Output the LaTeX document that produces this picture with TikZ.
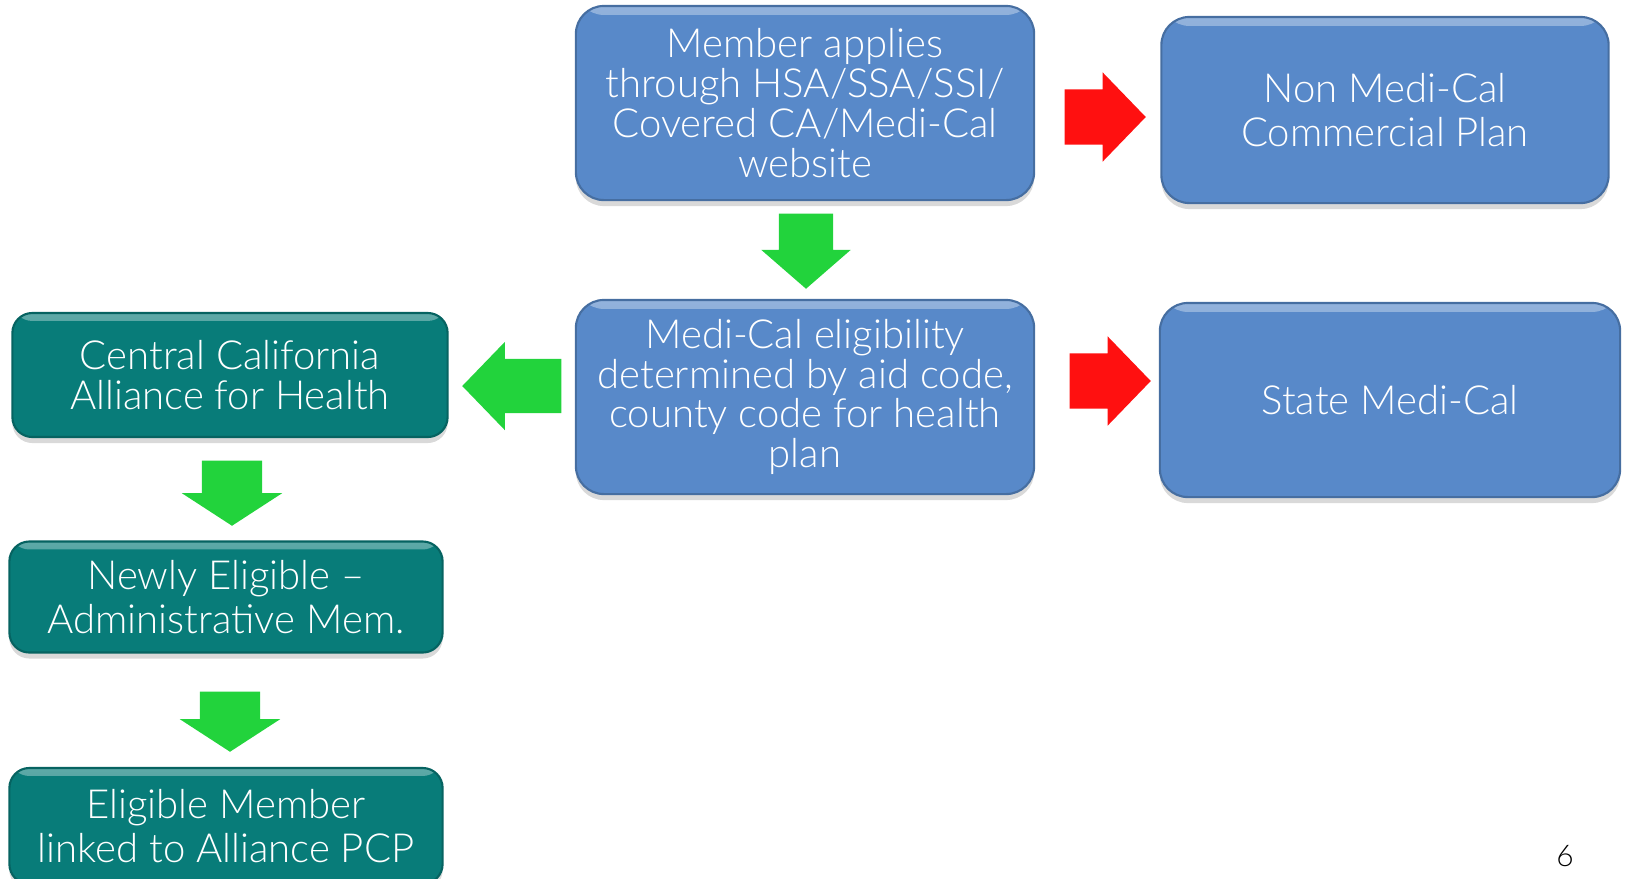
\documentclass[tikz,border=0pt]{standalone}
\usepackage{fontspec}
\setmainfont{Lato Light}
\usetikzlibrary{shapes.arrows,shadows}

\definecolor{boxblue}{HTML}{5889C9}
\definecolor{boxteal}{HTML}{087C79}
\definecolor{arrgreen}{HTML}{22D33C}
\definecolor{arrred}{HTML}{FF1010}

\tikzset{
	plainbox/.style={rectangle, text=white, align=center, inner sep=0pt,
		line width=0.6pt,
		drop shadow={shadow xshift=0pt, shadow yshift=-0.06cm, opacity=0.3},
		font=\fontsize{11.4}{11.3}\selectfont},
	bluebox/.style={plainbox, rounded corners=0.28cm, fill=boxblue, draw=boxblue!80!black,
		path picture={\shade[top color=boxblue!65!white, bottom color=boxblue]
			(path picture bounding box.north west) rectangle ([yshift=-0.09cm]path picture bounding box.north east);}},
	tealbox/.style={plainbox, rounded corners=0.2cm, fill=boxteal, draw=boxteal!80!black,
		path picture={\shade[top color=boxteal!65!white, bottom color=boxteal]
			(path picture bounding box.north west) rectangle ([yshift=-0.08cm]path picture bounding box.north east);}},
	blockarrow/.style={single arrow, inner sep=0pt, draw=none, anchor=tail},
	garrow/.style={blockarrow, fill=arrgreen},
	% downward arrows take their shaft width from inner xsep
	gdown/.style={garrow, shape border rotate=270, inner xsep=#1},
	rarrow/.style={blockarrow, fill=arrred, shape border rotate=0,
		minimum height=0.81cm, inner ysep=0.27cm,
		single arrow head extend=0.17cm, single arrow tip angle=92}
}

\begin{document}
\begin{tikzpicture}[x=0.01cm, y=-0.01cm]
	\useasboundingbox (0,0) rectangle (1625,878);
	\clip (0,0) rectangle (1625,878);

	% blue column: application and eligibility
	\node[bluebox, minimum width=4.58cm, minimum height=1.94cm] (apply) at (805,103)
		{Member applies\\through HSA/SSA/SSI/\\Covered CA/Medi-Cal\\website};
	\node[bluebox, minimum width=4.58cm, minimum height=1.94cm] (elig) at (805,397)
		{Medi-Cal eligibility\\determined by aid code,\\county code for health\\plan};
	\node[bluebox, minimum width=4.47cm, minimum height=1.86cm,
		font=\fontsize{11.4}{12.4}\selectfont] (commercial) at (1385,110)
		{Non Medi-Cal\\Commercial Plan};
	\node[bluebox, minimum width=4.6cm, minimum height=1.94cm] (state) at (1390,400)
		{State Medi-Cal};

	% teal column: the plan
	\node[tealbox, minimum width=4.35cm, minimum height=1.24cm] (alliance) at (230,375)
		{Central California\\Alliance for Health};
	\node[tealbox, minimum width=4.33cm, minimum height=1.11cm,
		font=\fontsize{11.4}{12.4}\selectfont] (newly) at (226,597)
		{Newly Eligible --\\Administrative Mem.};
	\node[tealbox, minimum width=4.33cm, minimum height=1.16cm,
		font=\fontsize{11.4}{12.4}\selectfont] (linked) at (226,826)
		{Eligible Member\\linked to Alliance PCP};

	% block arrows, placed by their tails
	\node[rarrow] (toCommercial) at (1064,117) {};
	\node[rarrow] (toState) at (1069,381) {};
	\node[gdown=0.265cm, minimum height=0.75cm,
		single arrow head extend=0.175cm, single arrow tip angle=98] (toElig) at (806,213) {};
	\node[garrow, shape border rotate=180, minimum height=0.99cm, inner ysep=0.265cm,
		single arrow head extend=0.17cm, single arrow tip angle=92] (toAlliance) at (562,386) {};
	\node[gdown=0.295cm, minimum height=0.65cm,
		single arrow head extend=0.2cm, single arrow tip angle=114] (toNewly) at (232,460) {};
	\node[gdown=0.295cm, minimum height=0.6cm,
		single arrow head extend=0.2cm, single arrow tip angle=114] (toLinked) at (230,691) {};

	% slide number
	\node[font=\fontsize{8.5}{10}\selectfont] (page) at (1565,856) {6};
\end{tikzpicture}
\end{document}
